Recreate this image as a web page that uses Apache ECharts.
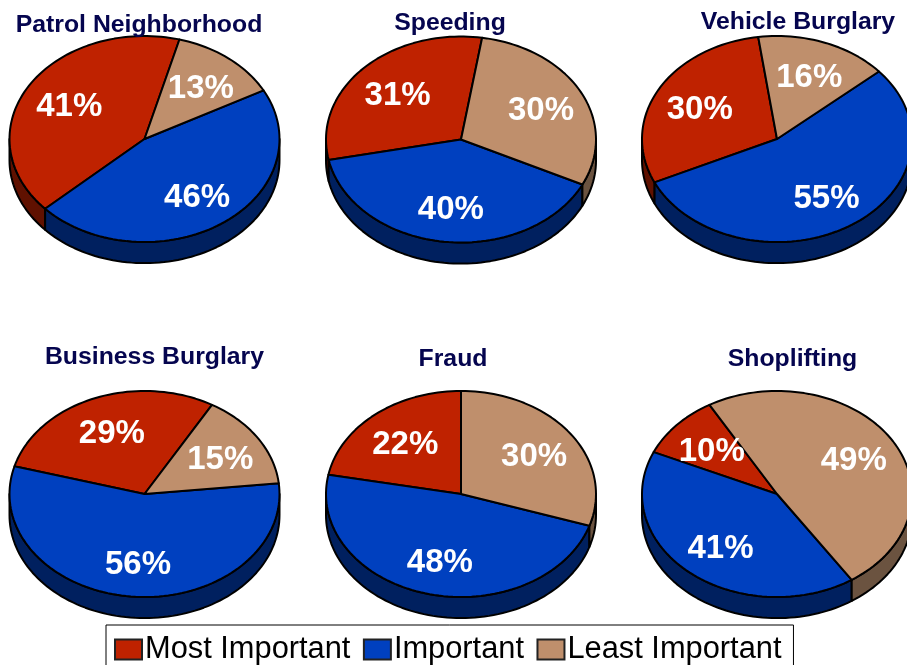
<!DOCTYPE html>
<html>
<head>
<meta charset="utf-8">
<title>Crime priorities</title>
<script src="https://cdn.jsdelivr.net/npm/echarts@6/dist/echarts.min.js"></script>
<style>
  html, body { margin: 0; padding: 0; background: #fff; overflow: hidden; }
  #chart { width: 907px; height: 665px; }
</style>
</head>
<body>
<div id="chart"></div>
<script>
const pieTitles = ['Patrol Neighborhood', 'Speeding', 'Vehicle Burglary', 'Business Burglary', 'Fraud', 'Shoplifting']
const categories = ['Most Important', 'Important', 'Least Important']
const mostImportant = [41, 31, 30, 29, 22, 10]
const important = [46, 40, 55, 56, 48, 41]
const leastImportant = [13, 30, 16, 15, 30, 49]
// clockwise angle from 12 o'clock where Most Important ends and Least Important begins
const pieRotation = [15, 9, -8, 30, 0, -30]

const pieCenters = [[144.5, 139], [461, 139.5], [777, 139], [144.5, 494], [461, 494], [777, 494]]
const titleAnchors = [[139, 13], [450, 11], [798, 10], [154.5, 345], [453, 347], [792.5, 347]]
const rx = 135
const ry = 103
const depth = 0.205
const topColors = ['#bf2200', '#0040bf', '#bf8f6c']
const sideColors = ['#601100', '#00205f', '#6b5340']

function point(api, deg, r, drop) {
  const a = deg * Math.PI / 180
  return api.coord([r * Math.sin(a), r * Math.cos(a) - (drop || 0)])
}

function arc(api, from, to, drop) {
  const pts = []
  const n = Math.max(2, Math.ceil((to - from) / 2))
  for (let i = 0; i <= n; i++) {
    pts.push(point(api, from + (to - from) * i / n, 1, drop))
  }
  return pts
}

function renderSlice(params, api) {
  const start = api.value(0)
  const end = api.value(1)
  const children = []
  const line = { stroke: '#000', lineWidth: 2, lineJoin: 'round' }
  const color = topColors[params.seriesIndex % 3]
  const dark = sideColors[params.seriesIndex % 3]

  // side wall only shows on the front half of the disc
  ;[[90, 270], [450, 630]].forEach(front => {
    const from = Math.max(start, front[0])
    const to = Math.min(end, front[1])
    if (to > from) {
      children.push({
        type: 'polygon',
        z2: 1,
        shape: { points: arc(api, from, to, 0).concat(arc(api, from, to, depth).reverse()) },
        style: Object.assign({ fill: dark }, line)
      })
    }
  })

  children.push({
    type: 'polygon',
    z2: 2,
    shape: { points: [point(api, 0, 0)].concat(arc(api, start, end, 0)) },
    style: Object.assign({ fill: color }, line)
  })

  const mid = point(api, (start + end) / 2, 0.66)
  children.push({
    type: 'text',
    z2: 50,
    x: mid[0] + 1,
    y: mid[1] + 3,
    style: {
      text: api.value(2) + '%',
      fill: '#fff',
      font: 'bold 33px "Liberation Sans", Arial, sans-serif',
      align: 'center',
      verticalAlign: 'middle'
    }
  })
  return { type: 'group', children: children }
}

const grids = []
const xAxes = []
const yAxes = []
const titles = []
const series = []

pieTitles.forEach((name, i) => {
  grids.push({
    left: pieCenters[i][0] - rx,
    top: pieCenters[i][1] - ry,
    width: rx * 2,
    height: ry * 2,
    outerBoundsMode: 'none'
  })
  xAxes.push({ type: 'value', gridIndex: i, min: -1, max: 1, show: false })
  yAxes.push({ type: 'value', gridIndex: i, min: -1, max: 1, show: false })
  titles.push({
    text: name,
    left: titleAnchors[i][0],
    top: titleAnchors[i][1],
    textAlign: 'center',
    padding: 0,
    textStyle: { color: '#05054f', fontFamily: '"Liberation Sans", Arial, sans-serif', fontWeight: 'bold', fontSize: 24.8 }
  })

  const total = mostImportant[i] + important[i] + leastImportant[i]
  const scale = 360 / total
  const rot = pieRotation[i]
  const leastEnd = rot + leastImportant[i] * scale
  const importantEnd = leastEnd + important[i] * scale
  const spans = [
    [importantEnd, rot + 360, mostImportant[i]],
    [leastEnd, importantEnd, important[i]],
    [rot, leastEnd, leastImportant[i]]
  ]
  categories.forEach((cat, k) => {
    // keep angles positive so the front half test works
    const shift = spans[k][0] < 0 ? 360 : 0
    series.push({
      name: cat,
      type: 'custom',
      xAxisIndex: i,
      yAxisIndex: i,
      renderItem: renderSlice,
      itemStyle: { color: topColors[k] },
      animation: false,
      silent: true,
      encode: { x: 0, y: 1 },
      data: [[spans[k][0] + shift, spans[k][1] + shift, spans[k][2]]]
    })
  })
})

const chart = echarts.init(document.getElementById('chart'), null, { renderer: 'canvas' })
chart.setOption({
  backgroundColor: '#fff',
  animation: false,
  title: titles,
  grid: grids,
  xAxis: xAxes,
  yAxis: yAxes,
  legend: {
    left: 106,
    top: 625,
    padding: [9, 12, 10, 8],
    itemGap: 12.5,
    itemWidth: 27,
    itemHeight: 20,
    selectedMode: false,
    borderColor: '#000',
    borderWidth: 1,
    icon: 'rect',
    textStyle: { color: '#000', fontFamily: '"Liberation Sans", Arial, sans-serif', fontSize: 30.8, padding: [4, 0, 0, -2] },
    data: categories.map((cat, k) => ({
      name: cat,
      itemStyle: { color: topColors[k], borderColor: '#222', borderWidth: 2 }
    }))
  },
  series: series
})
</script>
</body>
</html>
